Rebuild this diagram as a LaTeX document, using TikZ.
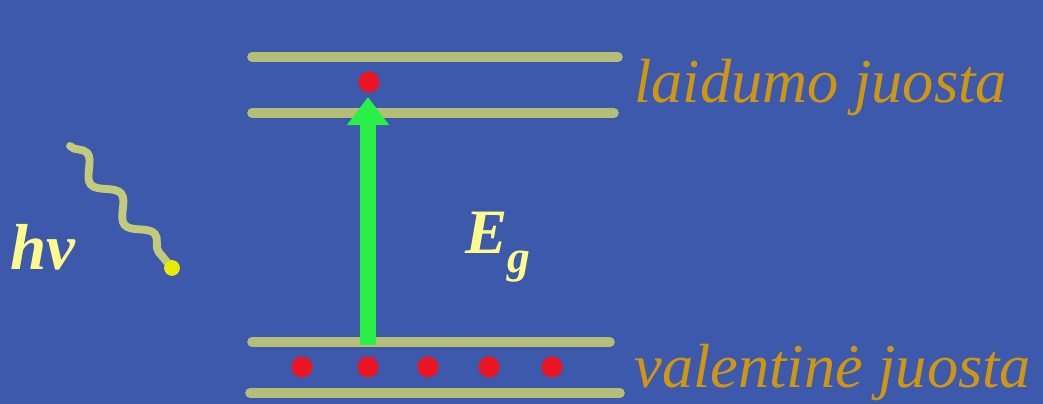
\documentclass[tikz,border=0pt]{standalone}
\usepackage{fontspec}
\setmainfont{Liberation Serif}
\usetikzlibrary{decorations.pathmorphing,arrows.meta}

\definecolor{bgblue}{RGB}{60,89,172}
\definecolor{band}{RGB}{180,190,118}
\definecolor{gold}{RGB}{206,150,18}
\definecolor{lyellow}{RGB}{255,250,140}
\definecolor{egreen}{RGB}{40,240,70}
\definecolor{ered}{RGB}{235,20,35}

\tikzset{
  level/.style={band,line width=5.5pt,line cap=round},
  electron/.style={circle,fill=ered,inner sep=0pt,minimum size=12pt},
  bandlabel/.style={text=gold,font=\fontsize{35.5}{36}\selectfont\itshape,anchor=base west,inner sep=0pt},
}

\begin{document}
\begin{tikzpicture}[x=0.02cm,y=-0.02cm]
        \fill[bgblue] (0,0) rectangle (1043,404);
        \useasboundingbox (0,0) rectangle (1043,404);
        % juostos
        \draw[level] (252,57) -- (618,57);
        \draw[level] (252,113) -- (614,113);
        \draw[level] (252,342) -- (610,342);
        \draw[level] (250,393) -- (620,393);
        % elektronai
        \node[electron] (top) at (369,82) {};
        \foreach \x/\n in {302/a,368/b,428/c,489/d,552/e}
            \node[electron] (\n) at (\x,367) {};
        \coordinate (v) at (368,345);
        \coordinate (c) at (368,97);
        \draw[egreen,line width=9pt,-{Triangle[length=16pt,width=23pt]}] (v) -- (c);
        \node[text=lyellow,font=\fontsize{36}{36}\selectfont\bfseries\itshape,anchor=base west,inner sep=0pt] (eg) at (465,254) {E\raisebox{-0.3em}{\fontsize{26}{26}\selectfont g}};
        % fotonas
        \coordinate (p1) at (70,146);
        \coordinate (p2) at (172,268);
        \draw[band!80!lyellow,line width=4.5pt,line cap=round,decorate,decoration={snake,segment length=30pt,amplitude=5pt}] (p1) -- (p2);
        \node[circle,fill=yellow!90!green,inner sep=0pt,minimum size=9pt] (dot) at (p2) {};
        \node[text=lyellow,font=\fontsize{37}{37}\selectfont\bfseries\itshape,anchor=base west,inner sep=0pt] (hv) at (10,270) {hν};
        \node[bandlabel] (cb) at (634,103) {laidumo juosta};
        \node[bandlabel] (vb) at (634,388) {valentinė juosta};
    \end{tikzpicture}
\end{document}
